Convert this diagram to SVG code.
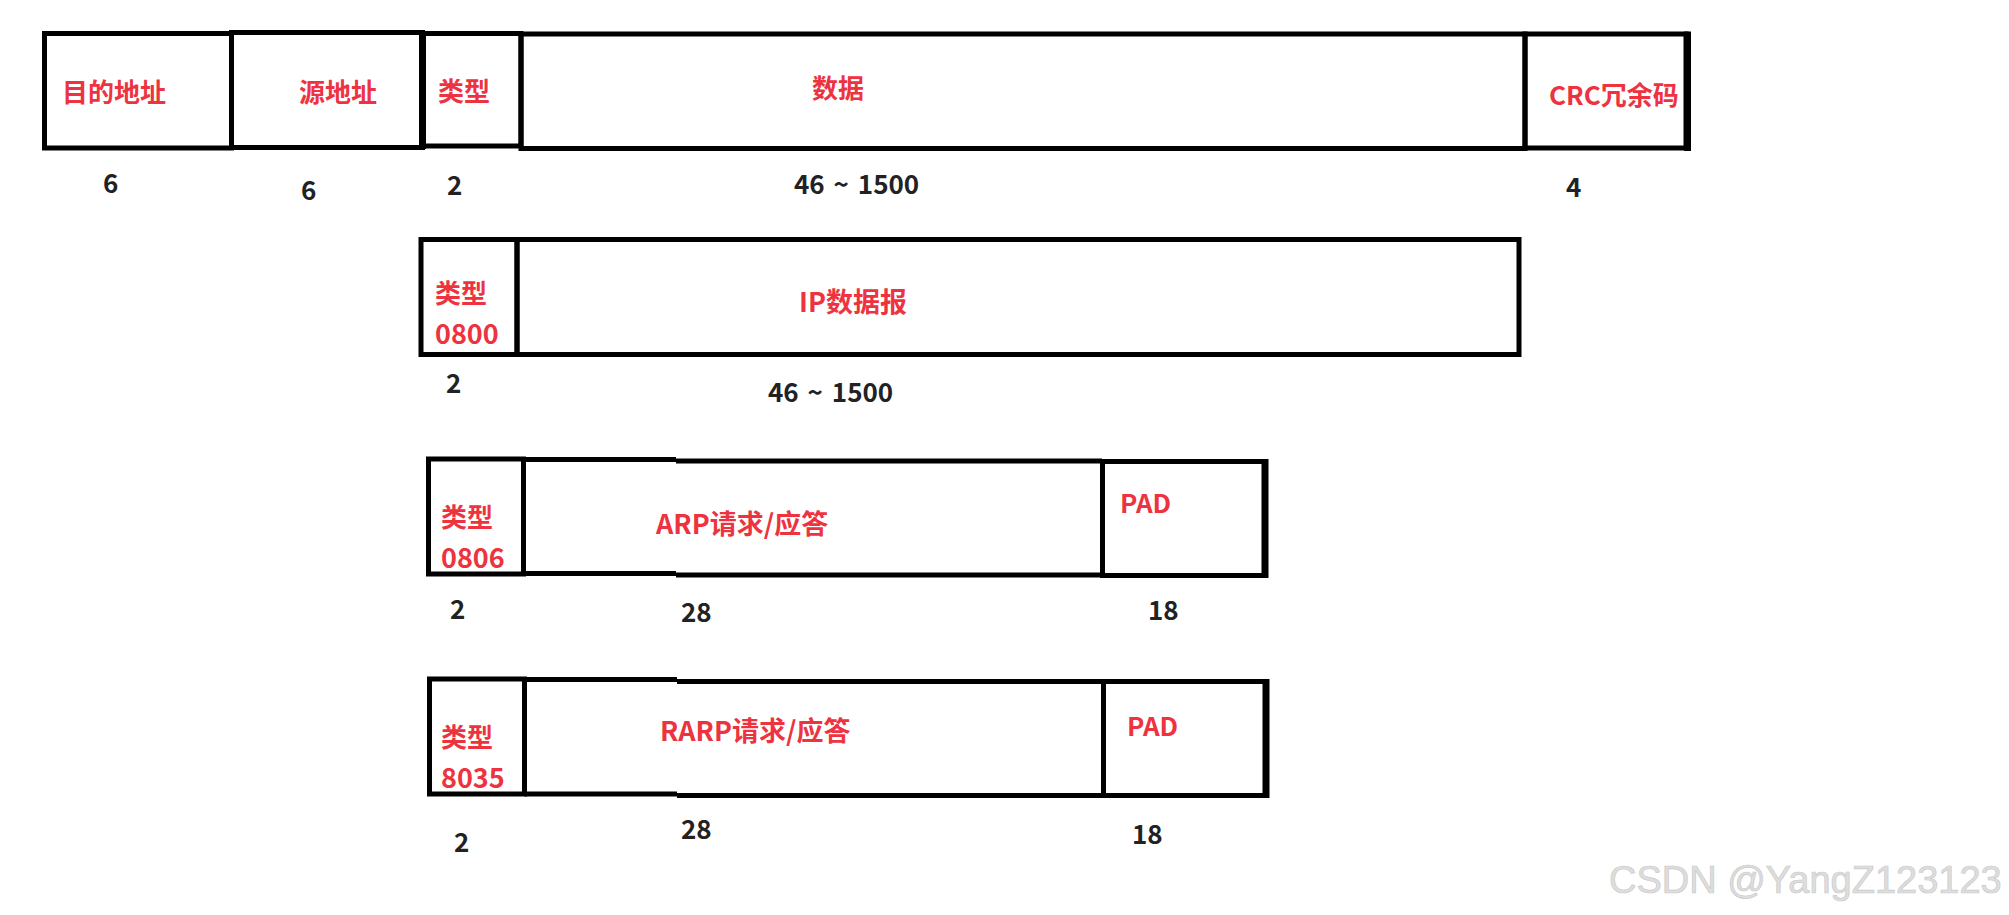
<svg xmlns="http://www.w3.org/2000/svg" width="2009" height="915" viewBox="0 0 2009 915">
<style>
.box{fill:none;stroke:#000;stroke-width:5}
.thick{stroke-width:7}
.lbl{font-family:"Noto Sans CJK SC","Noto Sans",sans-serif;font-weight:bold;fill:#ee3340;font-size:26px}
.big{font-size:27px}
.num{font-family:"Noto Sans CJK SC","Noto Sans",sans-serif;font-weight:bold;fill:#222;font-size:26px}
.rng{word-spacing:3px}
.wm{font-family:"Liberation Sans",Arial,sans-serif;font-size:38px;fill:#dedede;stroke:#cacaca;stroke-width:0.7}
</style>
<rect width="2009" height="915" fill="#fff"/>
<g id="connectors"/>
<!-- Row 1: Ethernet frame -->
<g id="dst">
<rect class="box" x="44.5" y="33.5" width="187" height="114.5"/>
<text class="lbl" x="62" y="102">目的地址</text>
<text class="num" x="103" y="193">6</text>
</g>
<g id="src">
<rect class="box" x="231.5" y="32.5" width="191" height="115"/>
<line class="box thick" x1="422.5" y1="31" x2="422.5" y2="149"/>
<text class="lbl" x="299" y="102">源地址</text>
<text class="num" x="301" y="200">6</text>
</g>
<g id="type1">
<rect class="box" x="422.5" y="33.5" width="98.5" height="112.5"/>
<text class="lbl" x="438" y="101">类型</text>
<text class="num" x="447" y="195">2</text>
</g>
<g id="data">
<rect class="box" x="521" y="34" width="1004" height="114.5"/>
<text class="lbl" x="812" y="98">数据</text>
<text class="num rng" x="794" y="194">46 ~ 1500</text>
</g>
<g id="crc">
<rect class="box" x="1525" y="34" width="161" height="114"/>
<line class="box thick" x1="1687.5" y1="31.5" x2="1687.5" y2="151"/>
<text class="lbl" x="1549" y="105">CRC冗余码</text>
<text class="num" x="1566" y="197">4</text>
</g>
<!-- Row 2: IP -->
<g id="ip-type">
<rect class="box" x="421" y="239.5" width="96" height="115"/>
<text class="lbl" x="435" y="303">类型</text>
<text class="lbl big" x="435" y="344">0800</text>
<text class="num" x="446" y="393">2</text>
</g>
<g id="ip-data">
<rect class="box" x="517" y="239.5" width="1002" height="115"/>
<text class="lbl big" x="799" y="312">IP数据报</text>
<text class="num rng" x="768" y="402">46 ~ 1500</text>
</g>
<!-- Row 3: ARP -->
<g id="arp-type">
<rect class="box" x="428.5" y="459" width="95" height="115"/>
<text class="lbl" x="441" y="527">类型</text>
<text class="lbl big" x="441" y="568">0806</text>
<text class="num" x="450" y="619">2</text>
</g>
<g id="arp-data">
<path class="box" d="M523.5 459.5H676M676 461H1102M523.5 573.5H676M676 575H1102M523.5 459V576"/>
<text class="lbl big" x="656" y="534">ARP请求/应答</text>
<text class="num" x="681" y="622">28</text>
</g>
<g id="arp-pad">
<rect class="box" x="1102.5" y="461.5" width="162.5" height="114"/>
<line class="box thick" x1="1265" y1="459" x2="1265" y2="578"/>
<text class="lbl" x="1120" y="513">PAD</text>
<text class="num" x="1148" y="620">18</text>
</g>
<!-- Row 4: RARP -->
<g id="rarp-type">
<rect class="box" x="429.5" y="679" width="95" height="115"/>
<text class="lbl" x="441" y="747">类型</text>
<text class="lbl big" x="441" y="788">8035</text>
<text class="num" x="454" y="852">2</text>
</g>
<g id="rarp-data">
<path class="box" d="M524.5 679.5H677M677 681.5H1103.5M524.5 794H677M677 795.5H1103.5M524.5 679V796"/>
<text class="lbl big" x="660" y="741">RARP请求/应答</text>
<text class="num" x="681" y="839">28</text>
</g>
<g id="rarp-pad">
<rect class="box" x="1103.5" y="681.5" width="162.5" height="114"/>
<line class="box thick" x1="1266" y1="679" x2="1266" y2="798"/>
<text class="lbl" x="1127" y="736">PAD</text>
<text class="num" x="1132" y="844">18</text>
</g>
<text class="wm" x="1609" y="893">CSDN @YangZ123123</text>
</svg>
